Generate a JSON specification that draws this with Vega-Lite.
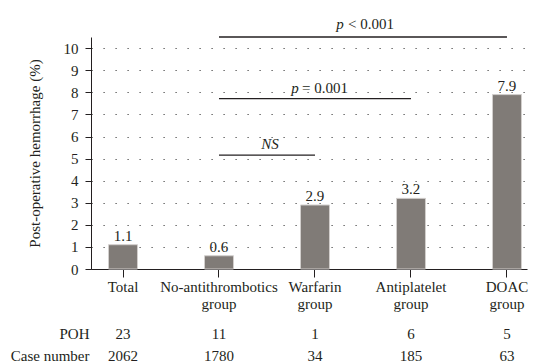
{
  "$schema": "https://vega.github.io/schema/vega-lite/v6.json",
  "padding": {"left": 10, "top": 17, "right": 8, "bottom": 0},
  "config": {
    "font": "Liberation Serif",
    "view": {"stroke": null},
    "text": {"color": "#231f20", "fontSize": 15, "font": "Liberation Serif"},
    "axis": {"labelColor": "#231f20", "titleColor": "#231f20", "domainColor": "#231f20", "tickColor": "#231f20", "labelFontSize": 15, "titleFontSize": 15, "titleFontWeight": "normal", "labelFont": "Liberation Serif", "titleFont": "Liberation Serif"},
    "axisY": {"labelOverlap": false, "tickSize": 6, "labelPadding": 7, "titlePadding": 21, "grid": true, "gridDash": [1.2, 10.8], "gridColor": "#444", "gridWidth": 1}
  },
  "datasets": {
    "groups": [
      {"group": "Total", "rate": 1.1, "POH": 23, "Case number": 2062},
      {"group": "No-antithrombotics group", "rate": 0.6, "POH": 11, "Case number": 1780},
      {"group": "Warfarin group", "rate": 2.9, "POH": 1, "Case number": 34},
      {"group": "Antiplatelet group", "rate": 3.2, "POH": 6, "Case number": 185},
      {"group": "DOAC group", "rate": 7.9, "POH": 5, "Case number": 63}
    ],
    "comparisons": [
      {"from": "No-antithrombotics group", "to": "Warfarin group", "level": 5.16, "stat": "NS"},
      {"from": "No-antithrombotics group", "to": "Antiplatelet group", "level": 7.72, "stat": "p = 0.001"},
      {"from": "No-antithrombotics group", "to": "DOAC group", "level": 10.51, "stat": "p < 0.001"}
    ]
  },
  "bounds": "flush",
  "spacing": 54,
  "vconcat": [
    {
      "width": 436,
      "height": 232,
      "encoding": {
        "x": {"field": "group", "type": "nominal",
          "scale": {"type": "band", "domain": ["Total", "No-antithrombotics group", "Warfarin group", "Antiplatelet group", "DOAC group"], "paddingInner": 0.698, "paddingOuter": 0.12, "align": 0.76},
          "axis": {"title": null, "labelAngle": 0, "labelExpr": "split(datum.value, ' ')", "labelLineHeight": 17, "tickSize": 8, "labelPadding": 2, "labelOverlap": false, "grid": false}}
      },
      "layer": [
        {
          "data": {"name": "groups"},
          "mark": {"type": "bar", "color": "#807b77", "stroke": "#d2cfcd", "strokeWidth": 1},
          "encoding": {
            "y": {"field": "rate", "type": "quantitative", "scale": {"domain": [0, 10.51], "nice": false}, "axis": {"title": "Post-operative hemorrhage (%)", "values": [0, 1, 2, 3, 4, 5, 6, 7, 8, 9, 10]}}
          }
        },
        {
          "data": {"name": "groups"},
          "mark": {"type": "text", "baseline": "alphabetic", "dy": -4},
          "encoding": {
            "y": {"field": "rate", "type": "quantitative", "axis": {"title": "Post-operative hemorrhage (%)", "values": [0, 1, 2, 3, 4, 5, 6, 7, 8, 9, 10]}},
            "text": {"field": "rate", "type": "quantitative", "format": ".1f"}
          }
        },
        {
          "data": {"name": "comparisons"},
          "mark": {"type": "rule", "color": "#231f20", "strokeWidth": 1.3},
          "encoding": {
            "x": {"field": "from", "type": "nominal"},
            "x2": {"field": "to"},
            "y": {"field": "level", "type": "quantitative", "axis": {"title": "Post-operative hemorrhage (%)", "values": [0, 1, 2, 3, 4, 5, 6, 7, 8, 9, 10]}}
          }
        },
        {
          "data": {"name": "comparisons"},
          "transform": [{"filter": "datum.stat == 'NS'"}],
          "mark": {"type": "text", "fontStyle": "italic", "baseline": "alphabetic", "dy": -6, "dx": 51},
          "encoding": {"x": {"field": "from", "type": "nominal"}, "y": {"field": "level", "type": "quantitative", "axis": {"title": "Post-operative hemorrhage (%)", "values": [0, 1, 2, 3, 4, 5, 6, 7, 8, 9, 10]}}, "text": {"value": "NS"}}
        },
        {
          "data": {"name": "comparisons"},
          "transform": [{"filter": "datum.stat == 'p = 0.001'"}],
          "mark": {"type": "text", "fontStyle": "italic", "baseline": "alphabetic", "dy": -6, "dx": 76},
          "encoding": {"x": {"field": "from", "type": "nominal"}, "y": {"field": "level", "type": "quantitative", "axis": {"title": "Post-operative hemorrhage (%)", "values": [0, 1, 2, 3, 4, 5, 6, 7, 8, 9, 10]}}, "text": {"value": "p"}}
        },
        {
          "data": {"name": "comparisons"},
          "transform": [{"filter": "datum.stat == 'p = 0.001'"}],
          "mark": {"type": "text", "align": "left", "baseline": "alphabetic", "dy": -6, "dx": 83},
          "encoding": {"x": {"field": "from", "type": "nominal"}, "y": {"field": "level", "type": "quantitative", "axis": {"title": "Post-operative hemorrhage (%)", "values": [0, 1, 2, 3, 4, 5, 6, 7, 8, 9, 10]}}, "text": {"value": "= 0.001"}}
        },
        {
          "data": {"name": "comparisons"},
          "transform": [{"filter": "datum.stat == 'p < 0.001'"}],
          "mark": {"type": "text", "fontStyle": "italic", "baseline": "alphabetic", "dy": -8, "dx": 121},
          "encoding": {"x": {"field": "from", "type": "nominal"}, "y": {"field": "level", "type": "quantitative", "axis": {"title": "Post-operative hemorrhage (%)", "values": [0, 1, 2, 3, 4, 5, 6, 7, 8, 9, 10]}}, "text": {"value": "p"}}
        },
        {
          "data": {"name": "comparisons"},
          "transform": [{"filter": "datum.stat == 'p < 0.001'"}],
          "mark": {"type": "text", "align": "left", "baseline": "alphabetic", "dy": -8, "dx": 129},
          "encoding": {"x": {"field": "from", "type": "nominal"}, "y": {"field": "level", "type": "quantitative", "axis": {"title": "Post-operative hemorrhage (%)", "values": [0, 1, 2, 3, 4, 5, 6, 7, 8, 9, 10]}}, "text": {"value": "< 0.001"}}
        }
      ]
    },
    {
      "width": 436,
      "height": 44,
      "data": {"name": "groups"},
      "transform": [{"fold": ["POH", "Case number"], "as": ["row", "count"]}],
      "mark": {"type": "text"},
      "encoding": {
        "x": {"field": "group", "type": "nominal",
          "scale": {"type": "band", "domain": ["Total", "No-antithrombotics group", "Warfarin group", "Antiplatelet group", "DOAC group"], "paddingInner": 0.698, "paddingOuter": 0.12, "align": 0.76}, "axis": null},
        "y": {"field": "row", "type": "nominal", "sort": ["POH", "Case number"], "scale": {"type": "band", "paddingInner": 0, "paddingOuter": 0},
          "axis": {"title": null, "domain": false, "ticks": false, "grid": false, "labelPadding": 2}},
        "text": {"field": "count", "type": "quantitative"}
      }
    }
  ]
}
